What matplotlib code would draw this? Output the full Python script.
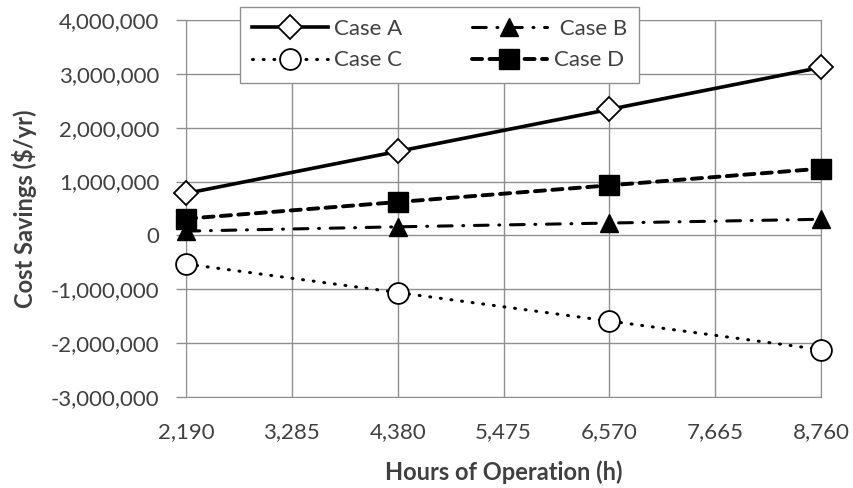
import matplotlib
matplotlib.use("Agg")
import matplotlib.pyplot as plt
from matplotlib.ticker import FuncFormatter

plt.rcParams['font.family'] = ['Lato', 'DejaVu Sans']

# data
hours = [2190, 4380, 6570, 8760]
case_a = [780000, 1560000, 2340000, 3120000]
case_b = [80000, 160000, 230000, 300000]
case_c = [-530000, -1060000, -1590000, -2120000]
case_d = [310000, 620000, 930000, 1240000]
x_ticks = [2190, 3285, 4380, 5475, 6570, 7665, 8760]
y_ticks = list(range(-3000000, 4000001, 1000000))

text_col = '#404040'
grid_col = '#8f8f8f'

fig = plt.figure(figsize=(8.54, 4.88), dpi=100)
ax = fig.add_axes([186 / 854, 1 - 397 / 488, (821 - 186) / 854, (397 - 20) / 488])

ax.plot(hours, case_a, color='black', lw=2.6, ls='-', marker='D', ms=12,
        mfc='white', mec='black', mew=1.3, label='Case A', zorder=5, clip_on=False)
ax.plot(hours, case_c, color='black', lw=2.2, ls=(0, (0.3, 3.2)),
        dash_capstyle='round', marker='o', ms=15,
        mfc='white', mec='black', mew=1.3, label='Case C', zorder=5, clip_on=False)
ax.plot(hours, case_b, color='black', lw=2.2, ls=(0, (4.5, 3.5, 0.3, 3.5)),
        dash_capstyle='round', marker='^', ms=13,
        mfc='black', mec='black', label=' Case B', zorder=5, clip_on=False)
ax.plot(hours, case_d, color='black', lw=2.8, ls=(0, (2.6, 1.9)),
        dash_capstyle='round', marker='s', ms=14,
        mfc='black', mec='black', label='Case D', zorder=5, clip_on=False)

ax.set_xlim(2190, 8760)
ax.set_ylim(-3000000, 4000000)
ax.set_xticks(x_ticks)
ax.set_yticks(y_ticks)
ax.xaxis.set_major_formatter(FuncFormatter(lambda v, p: f'{int(v):,}'))
ax.yaxis.set_major_formatter(FuncFormatter(lambda v, p: f'{int(v):,}'))
ax.grid(True, color=grid_col, lw=1)
ax.set_axisbelow(True)
for s in ax.spines.values():
    s.set_color(grid_col)
ax.tick_params(axis='both', colors=grid_col, labelcolor=text_col, labelsize=16,
               length=7, width=1, pad=12)
ax.tick_params(axis='x', length=0, pad=18)

ax.set_xlabel('Hours of Operation (h)', fontsize=17, fontweight='bold',
              color=text_col, labelpad=13)
ax.set_ylabel('Cost Savings ($/yr)', fontsize=17, fontweight='bold',
              color=text_col, labelpad=10)

leg = ax.legend(ncol=2, loc='upper left', bbox_to_anchor=(240 / 854, 1 - 7 / 488),
                bbox_transform=fig.transFigure, fontsize=16, frameon=True,
                fancybox=False, edgecolor=grid_col, framealpha=1,
                handlelength=3.4, handletextpad=0.3, columnspacing=3.1,
                borderpad=0.55, labelspacing=0.5, borderaxespad=0)
for t in leg.get_texts():
    t.set_color(text_col)
leg.get_frame().set_linewidth(1)

fig.savefig('out.png', dpi=100)
